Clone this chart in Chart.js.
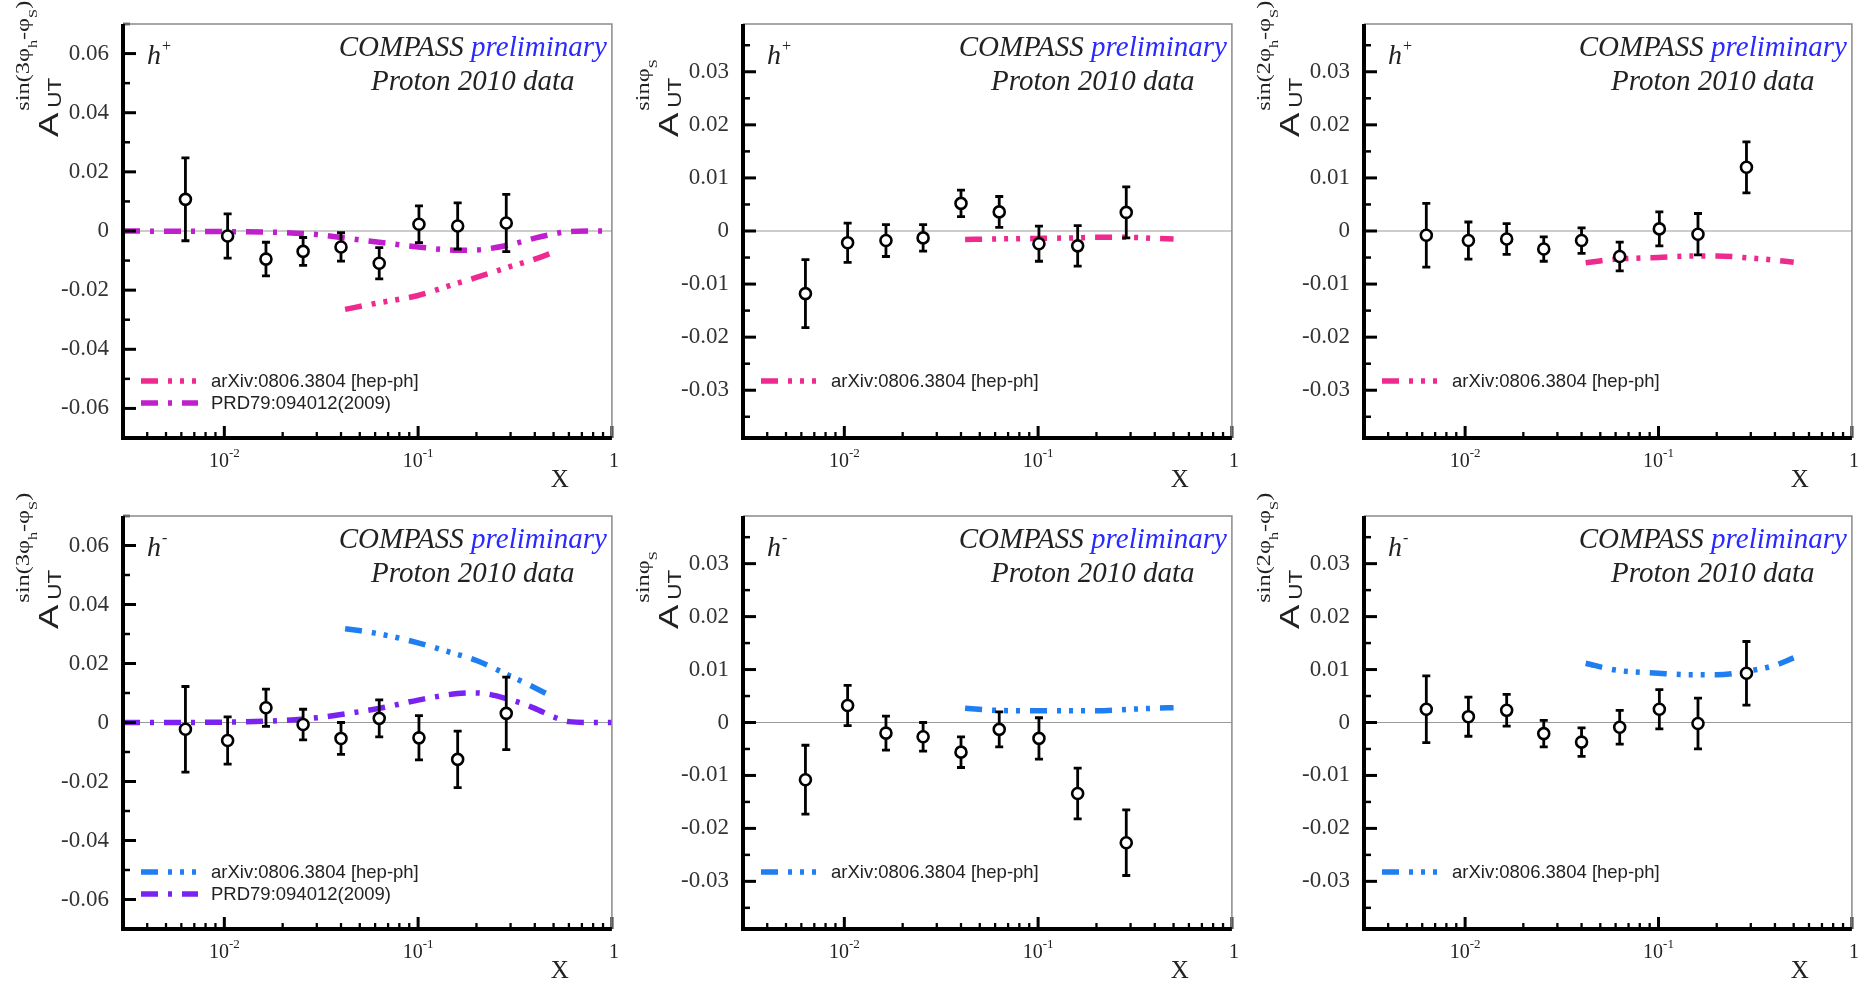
<!DOCTYPE html>
<html>
<head>
<meta charset="utf-8">
<script src="https://cdn.jsdelivr.net/npm/chart.js@4.4.0/dist/chart.umd.min.js"></script>
<style>
  body { margin: 0; background: #fff; }
  #wrap { position: relative; width: 1860px; height: 981px; overflow: hidden; }
  #wrap canvas { position: absolute; }
</style>
</head>
<body>
<div id="wrap"></div>
<script>
// x bins (mean x of each COMPASS bin)
var xBins = [0.0063, 0.0104, 0.0164, 0.0255, 0.040, 0.063, 0.101, 0.160, 0.285];

// h+ asymmetries and errors
var hp3Val = [0.0107, -0.0017, -0.0095, -0.0069, -0.0054, -0.0109, 0.0023, 0.0017, 0.0027];
var hp3Err = [0.0140, 0.0075, 0.0057, 0.0047, 0.0048, 0.0053, 0.0062, 0.0078, 0.0097];
var hpSVal = [-0.0118, -0.0022, -0.0018, -0.0013, 0.0052, 0.0036, -0.0024, -0.0028, 0.0035];
var hpSErr = [0.0064, 0.0037, 0.0030, 0.0025, 0.0025, 0.0029, 0.0033, 0.0038, 0.0048];
var hp2Val = [-0.0008, -0.0018, -0.0015, -0.0034, -0.0018, -0.0048, 0.0004, -0.0006, 0.0120];
var hp2Err = [0.0060, 0.0035, 0.0029, 0.0023, 0.0024, 0.0027, 0.0032, 0.0039, 0.0048];

// h- asymmetries and errors
var hm3Val = [-0.0023, -0.0061, 0.0050, -0.0007, -0.0054, 0.0014, -0.0052, -0.0125, 0.0031];
var hm3Err = [0.0145, 0.0080, 0.0063, 0.0052, 0.0054, 0.0063, 0.0075, 0.0096, 0.0123];
var hmSVal = [-0.0108, 0.0032, -0.0020, -0.0027, -0.0056, -0.0013, -0.0030, -0.0134, -0.0227];
var hmSErr = [0.0065, 0.0038, 0.0032, 0.0027, 0.0029, 0.0033, 0.0039, 0.0048, 0.0062];
var hm2Val = [0.0025, 0.0011, 0.0023, -0.0021, -0.0037, -0.0009, 0.0025, -0.0002, 0.0093];
var hm2Err = [0.0063, 0.0037, 0.0030, 0.0025, 0.0027, 0.0032, 0.0037, 0.0048, 0.0060];

// model curves: arXiv:0806.3804
var arxX = [0.042, 0.06, 0.1, 0.15, 0.2, 0.3, 0.4, 0.5];
var hp3Arx = [-0.0265, -0.0245, -0.0218, -0.0182, -0.0157, -0.0120, -0.0095, -0.0072];
var hpSArx = [-0.0016, -0.0015, -0.0014, -0.0013, -0.0012, -0.0012, -0.0014, -0.0015];
var hp2Arx = [-0.0060, -0.0053, -0.0050, -0.0047, -0.0047, -0.0051, -0.0055, -0.0059];
var hm3Arx = [0.0318, 0.0303, 0.0270, 0.0236, 0.0210, 0.0157, 0.0118, 0.0085];
var hmSArx = [0.0027, 0.0023, 0.0022, 0.0022, 0.0022, 0.0025, 0.0027, 0.0028];
var hm2Arx = [0.0112, 0.0099, 0.0093, 0.0090, 0.0090, 0.0098, 0.0108, 0.0122];

// model curves: PRD79:094012(2009)
var prdX = [0.003, 0.01, 0.02, 0.03, 0.04, 0.063, 0.1, 0.16, 0.2, 0.3, 0.4, 0.5, 0.6, 0.8, 1];
var hp3Prd = [0, -0.0002, -0.0005, -0.0012, -0.0022, -0.0038, -0.0054, -0.0065, -0.0064, -0.0046, -0.0024, -0.0010, -0.0002, 0, 0];
var hm3Prd = [0, 0.0001, 0.0007, 0.0016, 0.0027, 0.0048, 0.0076, 0.0098, 0.0100, 0.0077, 0.0048, 0.0019, 0.0003, 0, 0];

// tick labels
var yTicks3 = [-0.06, -0.04, -0.02, 0, 0.02, 0.04, 0.06];
var yMinor3 = [-0.07, -0.05, -0.03, -0.01, 0.01, 0.03, 0.05, 0.07];
var yTicks1 = [-0.03, -0.02, -0.01, 0, 0.01, 0.02, 0.03];
var yMinor1 = [-0.035, -0.025, -0.015, -0.005, 0.005, 0.015, 0.025, 0.035];
var xTicks = [0.01, 0.1, 1];
var xTickExp = ['-2', '-1', ''];
var xMinor = [0.004, 0.005, 0.006, 0.007, 0.008, 0.009, 0.02, 0.03, 0.04, 0.05, 0.06, 0.07, 0.08, 0.09,
              0.2, 0.3, 0.4, 0.5, 0.6, 0.7, 0.8, 0.9];

var colPink = '#ef2a8f', colMag = '#c01fcc', colBlue = '#1f7ff2', colViolet = '#7a22f2';
var dashArx = [17, 10, 4, 8, 4, 8, 4, 10];
var dashPrd = [17, 10, 4, 10];
var arxLabel = 'arXiv:0806.3804 [hep-ph]';
var prdLabel = 'PRD79:094012(2009)';

var sup3 = ['sin(3φ', ['h'], '-φ', ['S'], ')'];
var supS = ['sinφ', ['S']];
var sup2 = ['sin(2φ', ['h'], '-φ', ['S'], ')'];

var panels = [
    { col: 0, row: 0, vals: hp3Val, errs: hp3Err, range: 0.07, major: yTicks3, minor: yMinor3, sup: sup3, charge: '+',
      curves: [{ label: arxLabel, x: arxX, y: hp3Arx, color: colPink, dash: dashArx },
               { label: prdLabel, x: prdX, y: hp3Prd, color: colMag, dash: dashPrd }] },
    { col: 1, row: 0, vals: hpSVal, errs: hpSErr, range: 0.039, major: yTicks1, minor: yMinor1, sup: supS, charge: '+',
      curves: [{ label: arxLabel, x: arxX, y: hpSArx, color: colPink, dash: dashArx }] },
    { col: 2, row: 0, vals: hp2Val, errs: hp2Err, range: 0.039, major: yTicks1, minor: yMinor1, sup: sup2, charge: '+',
      curves: [{ label: arxLabel, x: arxX, y: hp2Arx, color: colPink, dash: dashArx }] },
    { col: 0, row: 1, vals: hm3Val, errs: hm3Err, range: 0.07, major: yTicks3, minor: yMinor3, sup: sup3, charge: '-',
      curves: [{ label: arxLabel, x: arxX, y: hm3Arx, color: colBlue, dash: dashArx },
               { label: prdLabel, x: prdX, y: hm3Prd, color: colViolet, dash: dashPrd }] },
    { col: 1, row: 1, vals: hmSVal, errs: hmSErr, range: 0.039, major: yTicks1, minor: yMinor1, sup: supS, charge: '-',
      curves: [{ label: arxLabel, x: arxX, y: hmSArx, color: colBlue, dash: dashArx }] },
    { col: 2, row: 1, vals: hm2Val, errs: hm2Err, range: 0.039, major: yTicks1, minor: yMinor1, sup: sup2, charge: '-',
      curves: [{ label: arxLabel, x: arxX, y: hm2Arx, color: colBlue, dash: dashArx }] }
];

var SERIF = '"Liberation Serif", "Times New Roman", serif';
var SANS = '"Liberation Sans", Arial, sans-serif';

// rotated A_UT^{...} title, bx = baseline x on screen, by = screen y where the text starts
function drawYLabel(ctx, bx, by, sup) {
    ctx.save();
    ctx.translate(bx, by);
    ctx.rotate(-Math.PI / 2);
    ctx.fillStyle = '#222';
    ctx.textAlign = 'left';
    ctx.textBaseline = 'alphabetic';

    ctx.save();
    ctx.scale(1.3, 1);
    ctx.font = '28px ' + SANS;
    var wA = ctx.measureText('A').width * 1.3;
    ctx.fillText('A', 0, 0);
    ctx.restore();

    ctx.save();
    ctx.translate(wA + 5, 3);
    ctx.scale(1.25, 1);
    ctx.font = '18px ' + SANS;
    ctx.fillText('UT', 0, 0);
    ctx.restore();

    var x = wA + 2;
    sup.forEach(function (part) {
        var isSub = Array.isArray(part);
        var txt = isSub ? part[0] : part;
        ctx.save();
        ctx.font = (isSub ? '12px ' : '18px ') + SERIF;
        var w = ctx.measureText(txt).width * 1.35;
        ctx.translate(x, isSub ? -21 : -29);
        ctx.scale(1.35, 1);
        ctx.fillText(txt, 0, 0);
        ctx.restore();
        x += w;
    });
    ctx.restore();
}

function makePanelPlugin(p) {
    return {
        id: 'panel' + p.col + p.row,
        beforeDatasetsDraw: function (chart) {
            var ctx = chart.ctx, a = chart.chartArea;
            var y0 = chart.scales.y.getPixelForValue(0);
            ctx.save();
            ctx.strokeStyle = '#9a9a9a';
            ctx.lineWidth = 1.2;
            ctx.beginPath();
            ctx.moveTo(a.left, y0);
            ctx.lineTo(a.right, y0);
            ctx.stroke();
            ctx.restore();
        },
        beforeDatasetDraw: function (chart, args) {
            if (args.index !== 0) return;
            var ctx = chart.ctx, xs = chart.scales.x, ys = chart.scales.y;
            ctx.save();
            ctx.strokeStyle = '#000';
            ctx.lineWidth = 2.8;
            xBins.forEach(function (x, i) {
                var px = xs.getPixelForValue(x);
                var t = ys.getPixelForValue(p.vals[i] + p.errs[i]);
                var b = ys.getPixelForValue(p.vals[i] - p.errs[i]);
                ctx.beginPath();
                ctx.moveTo(px, t); ctx.lineTo(px, b);
                ctx.moveTo(px - 4, t); ctx.lineTo(px + 4, t);
                ctx.moveTo(px - 4, b); ctx.lineTo(px + 4, b);
                ctx.stroke();
            });
            ctx.restore();
        },
        afterDraw: function (chart) {
            var ctx = chart.ctx, a = chart.chartArea, xs = chart.scales.x, ys = chart.scales.y;
            ctx.save();

            // inward ticks
            ctx.strokeStyle = '#000';
            function tickY(v, len, lw) {
                var py = ys.getPixelForValue(v);
                ctx.lineWidth = lw;
                ctx.beginPath(); ctx.moveTo(a.left, py); ctx.lineTo(a.left + len, py); ctx.stroke();
            }
            function tickX(v, len, lw) {
                var px = xs.getPixelForValue(v);
                ctx.lineWidth = lw;
                ctx.beginPath(); ctx.moveTo(px, a.bottom); ctx.lineTo(px, a.bottom - len); ctx.stroke();
            }
            p.major.forEach(function (v) { tickY(v, 13, 3); });
            p.minor.forEach(function (v) { tickY(v, 7, 2.5); });
            xTicks.forEach(function (v) { tickX(v, 12, 3); });
            xMinor.forEach(function (v) { tickX(v, 6, 2.3); });

            // frame
            ctx.strokeStyle = '#8a8a8a';
            ctx.lineWidth = 1.5;
            ctx.beginPath();
            ctx.moveTo(a.left, a.top); ctx.lineTo(a.right, a.top); ctx.lineTo(a.right, a.bottom);
            ctx.stroke();
            ctx.strokeStyle = '#000';
            ctx.lineWidth = 4;
            ctx.beginPath();
            ctx.moveTo(a.left, a.top); ctx.lineTo(a.left, a.bottom); ctx.lineTo(a.right, a.bottom);
            ctx.stroke();

            // x tick labels
            ctx.fillStyle = '#222';
            ctx.textBaseline = 'alphabetic';
            ctx.textAlign = 'left';
            xTicks.forEach(function (v, i) {
                var px = xs.getPixelForValue(v);
                var base = xTickExp[i] ? '10' : '1';
                ctx.font = '20px ' + SERIF;
                var wb = ctx.measureText(base).width;
                ctx.font = '13px ' + SERIF;
                var we = xTickExp[i] ? ctx.measureText(xTickExp[i]).width : 0;
                var x0 = px - (wb + we) / 2 + (xTickExp[i] ? 0 : 2);
                ctx.font = '20px ' + SERIF;
                ctx.fillText(base, x0, a.bottom + 29);
                if (xTickExp[i]) {
                    ctx.font = '13px ' + SERIF;
                    ctx.fillText(xTickExp[i], x0 + wb, a.bottom + 19);
                }
            });

            // x title
            ctx.font = '25px ' + SERIF;
            ctx.textAlign = 'center';
            ctx.fillText('X', a.right - 52, a.bottom + 49);

            // COMPASS preliminary
            ctx.font = 'italic 29px ' + SERIF;
            ctx.textAlign = 'left';
            var w1 = ctx.measureText('COMPASS ').width;
            var w2 = ctx.measureText('preliminary').width;
            var xr = a.right - 5;
            ctx.fillStyle = '#2a2aff';
            ctx.fillText('preliminary', xr - w2, a.top + 32);
            ctx.fillStyle = '#222';
            ctx.fillText('COMPASS ', xr - w2 - w1, a.top + 32);
            ctx.textAlign = 'center';
            ctx.fillText('Proton 2010 data', xr - (w1 + w2) / 2, a.top + 66);

            // h+ / h- label
            ctx.textAlign = 'left';
            ctx.font = 'italic 28px ' + SERIF;
            var wh = ctx.measureText('h').width;
            ctx.fillText('h', a.left + 24, a.top + 40);
            ctx.font = '16px ' + SERIF;
            ctx.fillText(p.charge, a.left + 25 + wh, a.top + 27);

            // legend
            p.curves.forEach(function (c, i) {
                var ly = a.bottom - 57 + 22 * i;
                ctx.save();
                ctx.strokeStyle = c.color;
                ctx.lineWidth = 5.5;
                ctx.setLineDash(c.dash);
                ctx.beginPath();
                ctx.moveTo(a.left + 18, ly);
                ctx.lineTo(a.left + 75, ly);
                ctx.stroke();
                ctx.restore();
                ctx.fillStyle = '#222';
                ctx.font = '18.5px ' + SANS;
                ctx.textBaseline = 'middle';
                ctx.fillText(c.label, a.left + 88, ly + 1);
                ctx.textBaseline = 'alphabetic';
            });

            // y axis title
            drawYLabel(ctx, a.left - 65, a.top + 113, p.sup);

            ctx.restore();
        }
    };
}

var wrap = document.getElementById('wrap');

panels.forEach(function (p) {
    var cv = document.createElement('canvas');
    var h = p.row === 0 ? 490 : 491;
    cv.width = 620;
    cv.height = h;
    cv.style.left = (p.col * 620) + 'px';
    cv.style.top = (p.row * 490) + 'px';
    wrap.appendChild(cv);

    var leftW = p.col === 2 ? 124 : 123;
    var padR = p.col === 2 ? 5 : 6;
    var padT = p.row === 0 ? 24 : 26;

    var datasets = [{
        data: xBins.map(function (x, i) { return { x: x, y: p.vals[i] }; }),
        showLine: false,
        pointStyle: 'circle',
        pointRadius: 5.5,
        pointBorderWidth: 2.6,
        pointBorderColor: '#000',
        pointBackgroundColor: '#fff'
    }];
    p.curves.forEach(function (c) {
        datasets.push({
            data: c.x.map(function (x, i) { return { x: x, y: c.y[i] }; }),
            borderColor: c.color,
            borderWidth: 5.5,
            borderDash: c.dash,
            borderCapStyle: 'butt',
            pointRadius: 0,
            fill: false,
            cubicInterpolationMode: 'monotone'
        });
    });

    new Chart(cv, {
        type: 'line',
        data: { datasets: datasets },
        options: {
            responsive: false,
            animation: false,
            devicePixelRatio: 1,
            events: [],
            layout: { padding: { top: padT, right: padR, left: 0, bottom: 0 } },
            plugins: { legend: { display: false }, tooltip: { enabled: false } },
            scales: {
                x: {
                    type: 'logarithmic',
                    min: 0.003,
                    max: 1,
                    grid: { display: false },
                    border: { display: false },
                    ticks: { display: false },
                    afterFit: function (s) { s.height = 52; }
                },
                y: {
                    min: -p.range,
                    max: p.range,
                    grid: { display: false },
                    border: { display: false },
                    afterBuildTicks: function (s) {
                        s.ticks = p.major.map(function (v) { return { value: v }; });
                    },
                    ticks: {
                        font: { family: 'Liberation Serif', size: 23 },
                        color: '#333',
                        padding: 6,
                        callback: function (v) { return v === 0 ? '0' : v.toFixed(2); }
                    },
                    afterFit: function (s) { s.width = leftW; }
                }
            }
        },
        plugins: [makePanelPlugin(p)]
    });
});
</script>
</body>
</html>
